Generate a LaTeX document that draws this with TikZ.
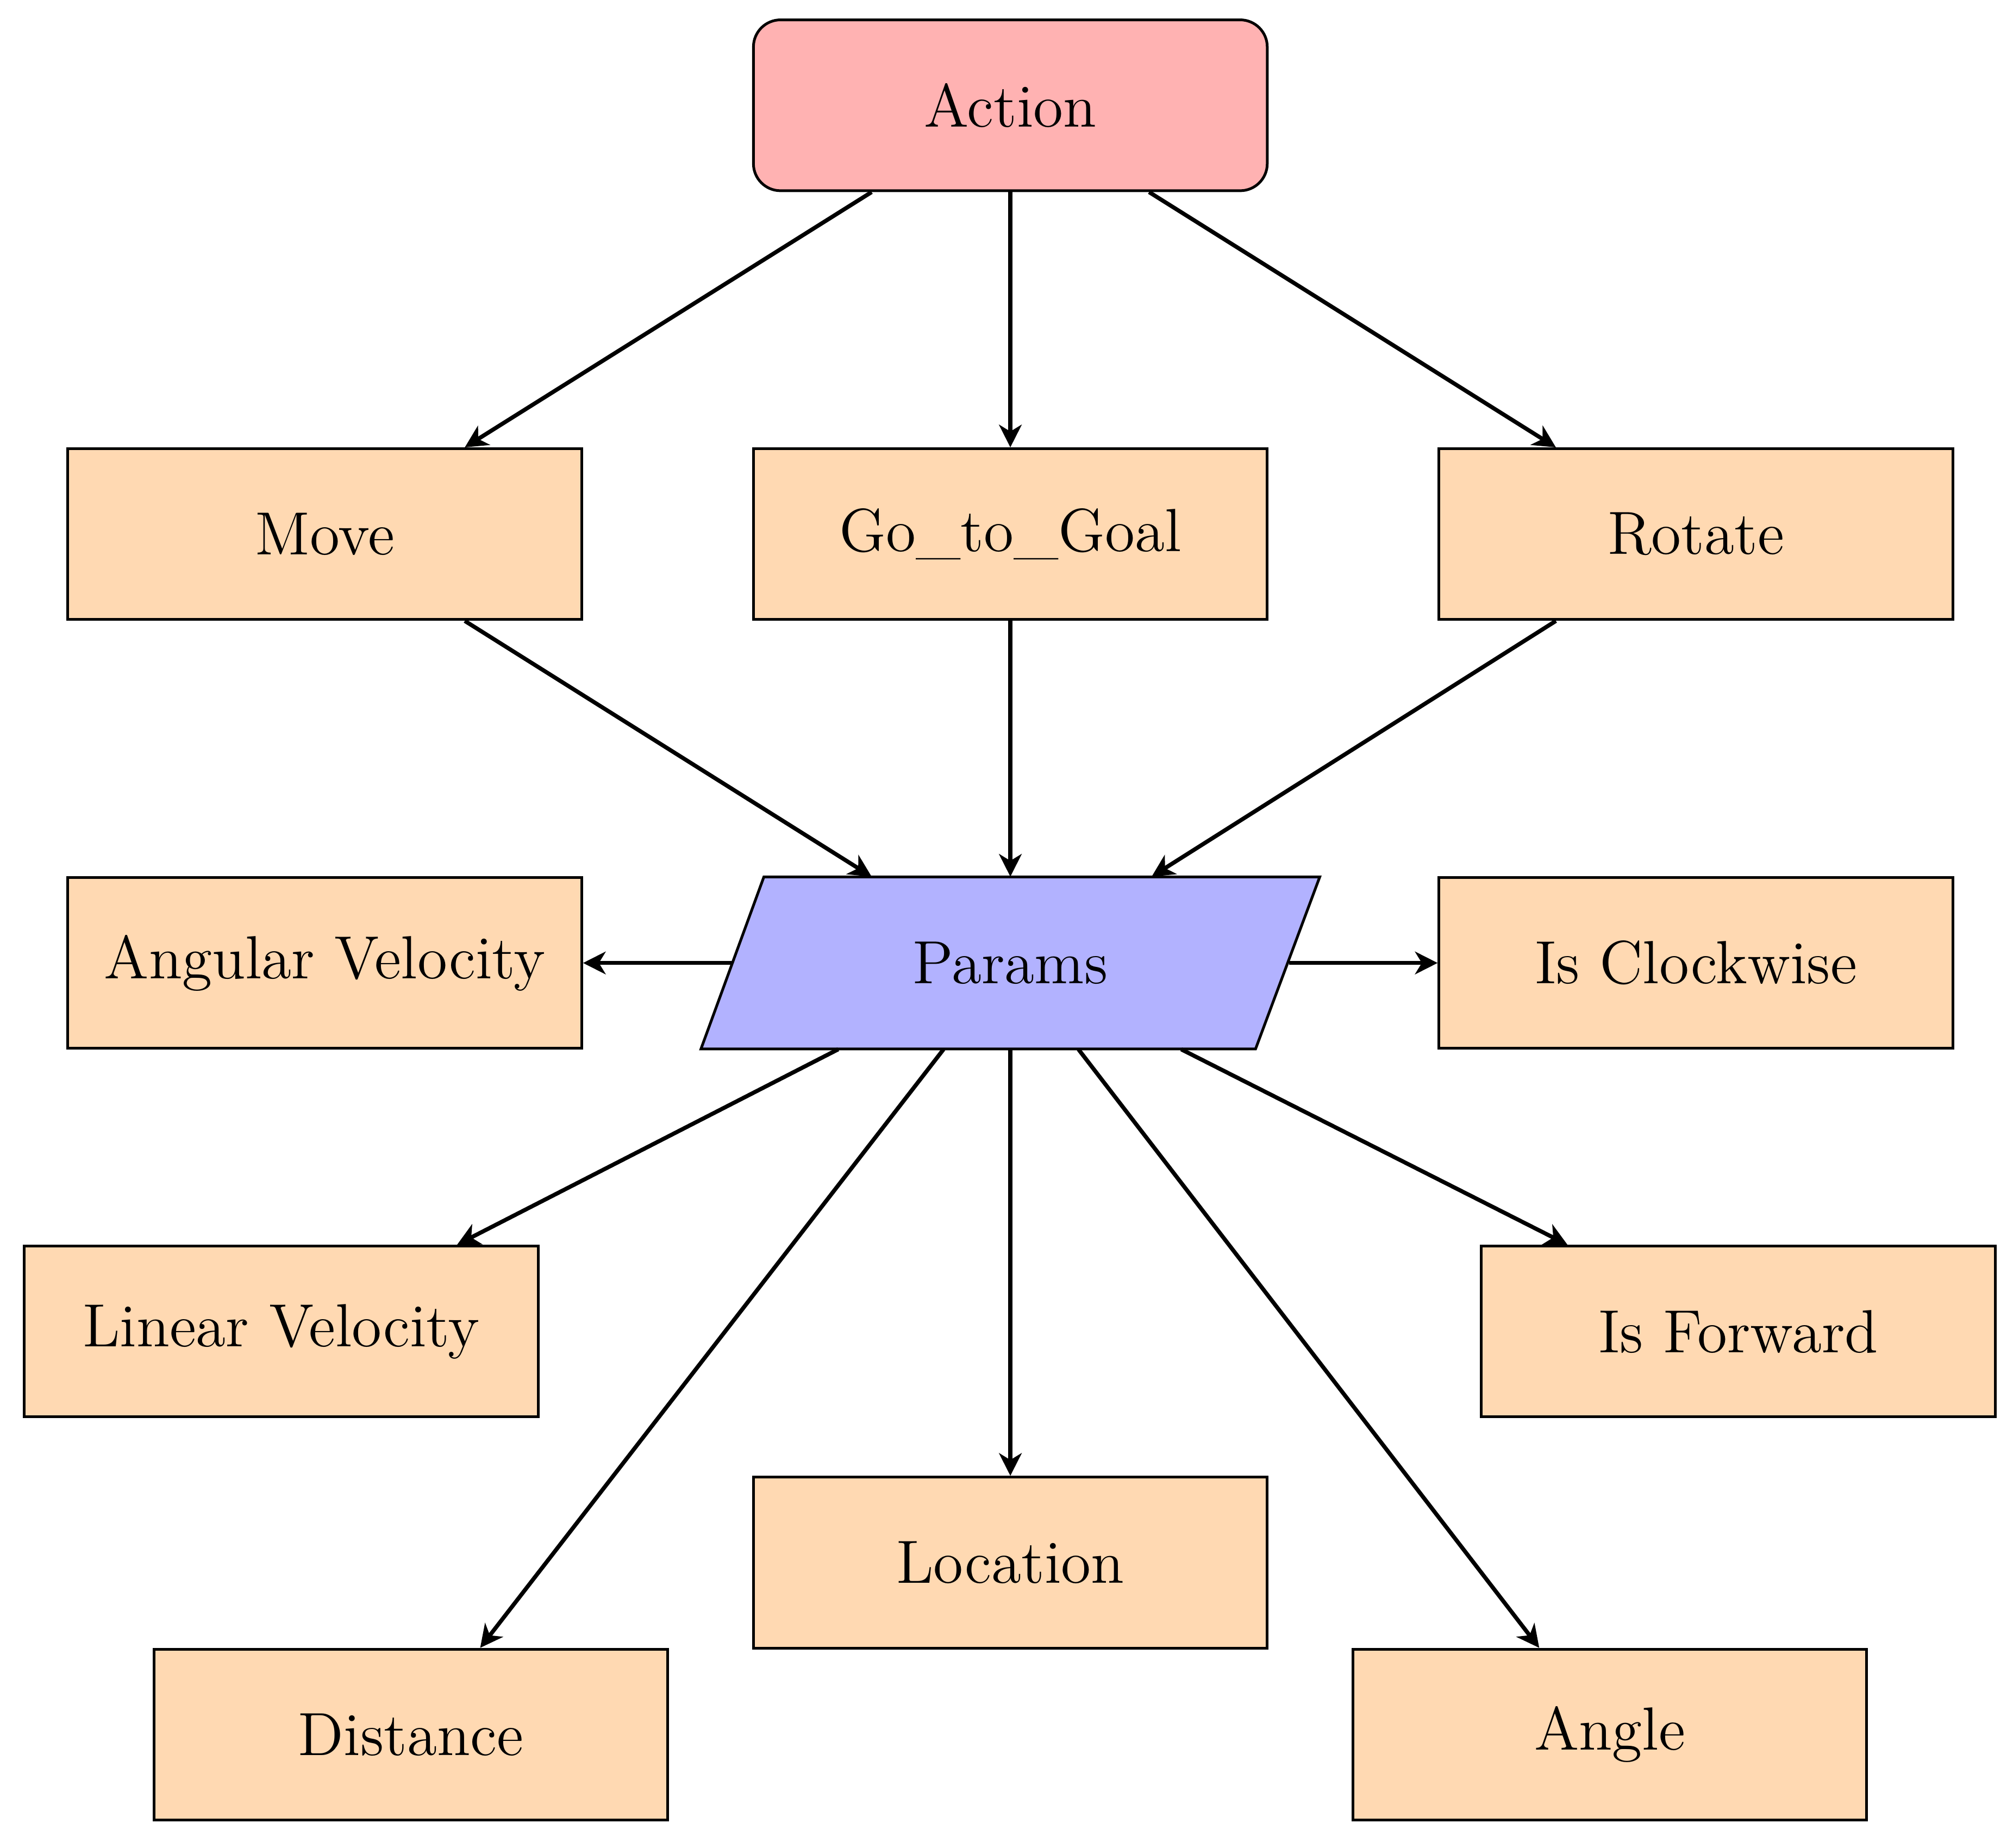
\documentclass[tikz,border=0pt]{standalone}
\usepackage{mathpazo}
\usetikzlibrary{arrows.meta,calc}
\begin{document}
\begin{tikzpicture}[x=0.01cm,y=-0.01cm,
  box/.style={draw,line width=0.6pt,fill=orange!30,minimum width=4cm,minimum height=1.33cm,inner sep=0pt,font=\fontsize{13.5}{16}\selectfont},
  arr/.style={line width=0.9pt,-{Stealth[length=5pt,width=5pt,inset=1.5pt]}}]
\useasboundingbox (0,0) rectangle (1568,1439);
\node[box,fill=red!30,rounded corners=6pt] (act) at (787,82) {Action};
\node[box] (mv) at (253,416) {Move};
\node[box] (go) at (787,416) {Go\_to\_Goal};
\node[box] (rot) at (1321,416) {Rotate};
\node[box] (av) at (253,750) {Angular Velocity};
\node[box] (cw) at (1321,750) {Is Clockwise};
\node[box] (lv) at (219,1037) {Linear Velocity};
\node[box] (fw) at (1354,1037) {Is Forward};
\node[box] (loc) at (787,1217) {Location};
\node[box] (dis) at (320,1351) {Distance};
\node[box] (ang) at (1254,1351) {Angle};
\draw[line width=0.6pt,fill=blue!30] (595,683) -- (1028,683) -- (978,817) -- (546,817) -- cycle;
\node[font=\fontsize{13.5}{16}\selectfont,minimum width=4.3cm,minimum height=1.33cm,inner sep=0pt] (par) at (787,750) {Params};
\draw[arr] ([xshift=-1.08cm]act.south) -- ([xshift=1.09cm]mv.north);
\draw[arr] (act) -- (go);
\draw[arr] ([xshift=1.08cm]act.south) -- ([xshift=-1.09cm]rot.north);
\draw[arr] ([xshift=1.09cm]mv.south) -- ([xshift=-1.08cm]par.north);
\draw[arr] (go) -- (par);
\draw[arr] ([xshift=-1.09cm]rot.south) -- ([xshift=1.10cm]par.north);
\draw[arr] ([xshift=-2.17cm]par.center) -- (av.east);
\draw[arr] ([xshift=2.17cm]par.center) -- (cw.west);
\draw[arr] ([xshift=-1.34cm]par.south) -- ([xshift=1.37cm]lv.north);
\draw[arr] ([xshift=-0.52cm]par.south) -- ([xshift=0.54cm]dis.north);
\draw[arr] (par) -- (loc);
\draw[arr] ([xshift=0.53cm]par.south) -- ([xshift=-0.55cm]ang.north);
\draw[arr] ([xshift=1.33cm]par.south) -- ([xshift=-1.33cm]fw.north);
\end{tikzpicture}
\end{document}
